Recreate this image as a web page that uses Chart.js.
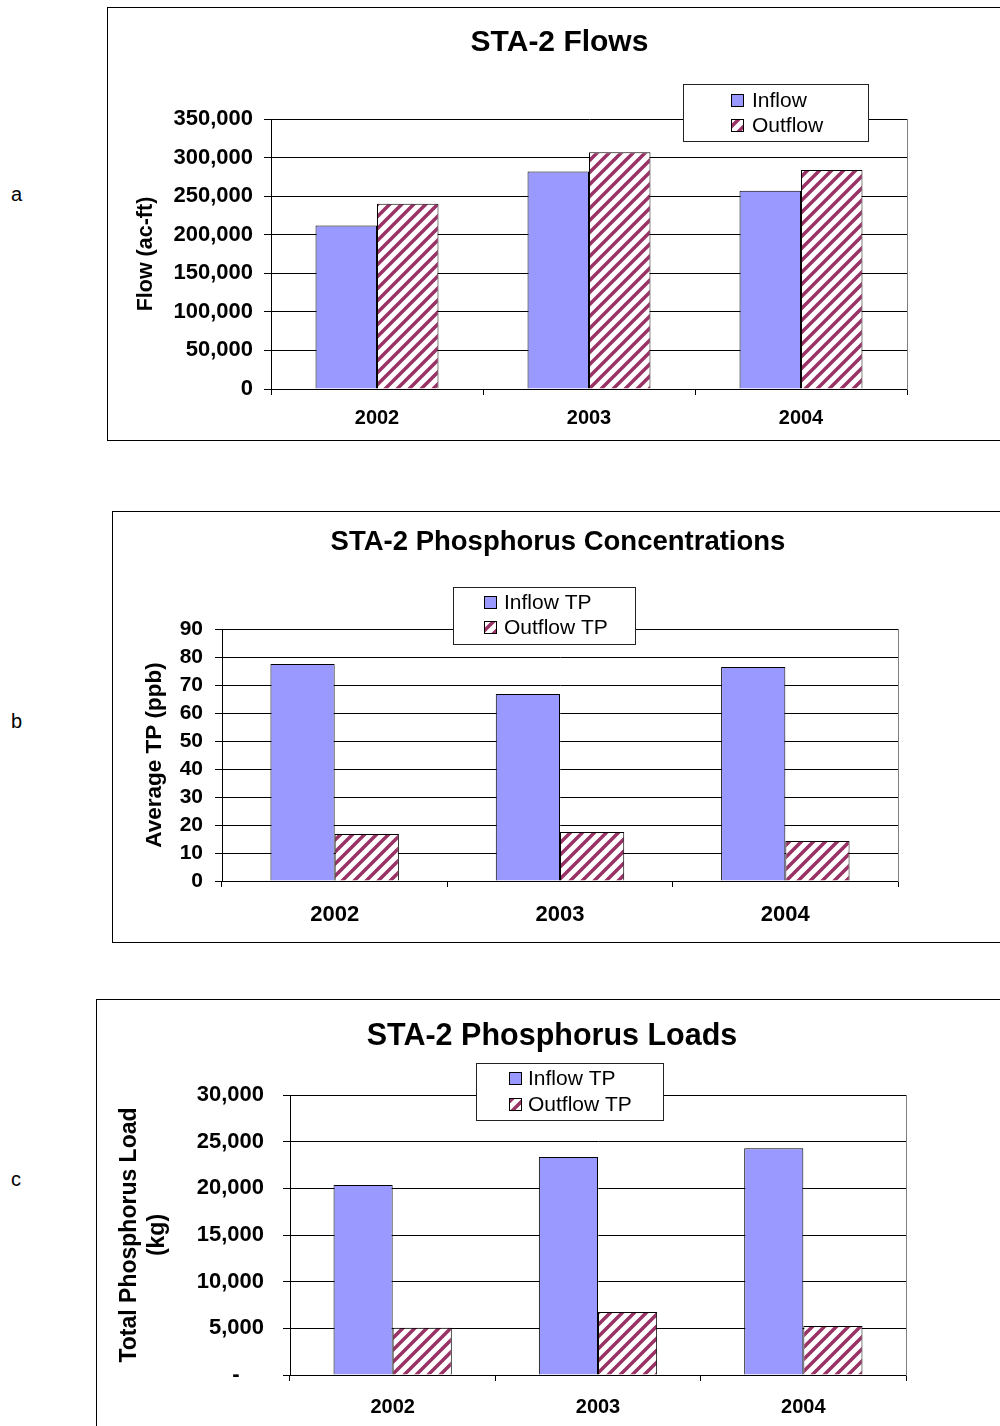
<!DOCTYPE html>
<html>
<head>
<meta charset="utf-8">
<script src="https://cdn.jsdelivr.net/npm/chart.js@4.4.1/dist/chart.umd.min.js"></script>
<style>
  html, body { margin: 0; padding: 0; background: #fff; overflow: hidden; width: 1000px; height: 1426px; }
  body { position: relative; font-family: "Liberation Sans", Arial, sans-serif; }
  .box { position: absolute; border: 1px solid #000; box-sizing: border-box; }
  .tag { position: absolute; font-size: 20px; color: #000; }
  canvas { position: absolute; }
</style>
</head>
<body>
<div class="tag" style="left:11px;top:183px;">a</div>
<div class="tag" style="left:11px;top:710px;">b</div>
<div class="tag" style="left:11px;top:1168px;">c</div>

<div class="box" style="left:107px;top:7px;width:1000px;height:434px;"></div>
<div class="box" style="left:112px;top:511px;width:1000px;height:432px;"></div>
<div class="box" style="left:96px;top:999px;width:1000px;height:500px;"></div>

<canvas id="flows" width="905" height="433" style="left:107px;top:7px;"></canvas>
<canvas id="conc" width="892" height="431" style="left:112px;top:511px;"></canvas>
<canvas id="loads" width="912" height="427" style="left:96px;top:999px;"></canvas>

<script>
// values
const years = ['2002', '2003', '2004'];

const flowInflow = [212000, 282000, 257000];
const flowOutflow = [240000, 307000, 284000];

const tpInflow = [77.5, 66.8, 76.4];
const tpOutflow = [16.8, 17.5, 14.3];

const loadInflow = [20350, 23350, 24300];
const loadOutflow = [5050, 6750, 5250];

Chart.defaults.font.family = '"Liberation Sans", Arial, sans-serif';
Chart.defaults.color = '#000';

// diagonal maroon hatch used by the outflow bars
function stripes() {
  const c = document.createElement('canvas');
  c.width = 12; c.height = 12;
  const g = c.getContext('2d');
  g.fillStyle = '#fff';
  g.fillRect(0, 0, 12, 12);
  g.strokeStyle = '#993366';
  g.lineWidth = 3.5;
  g.beginPath();
  g.moveTo(-6, 6); g.lineTo(6, -6);
  g.moveTo(0, 12); g.lineTo(12, 0);
  g.moveTo(6, 18); g.lineTo(18, 6);
  g.stroke();
  return g.createPattern(c, 'repeat');
}
const hatch = stripes();

// excel-style boxed legend that sits on top of the plot
const boxLegend = {
  id: 'boxLegend',
  afterDraw(chart, args, o) {
    const ctx = chart.ctx;
    ctx.save();
    ctx.fillStyle = '#fff';
    ctx.fillRect(o.x, o.y, o.w, o.h);
    ctx.strokeStyle = '#222';
    ctx.lineWidth = 1;
    ctx.strokeRect(o.x + 0.5, o.y + 0.5, o.w, o.h);
    ctx.font = '21px "Liberation Sans", Arial, sans-serif';
    ctx.textBaseline = 'middle';
    chart.data.datasets.forEach((ds, i) => {
      const cy = o.y + o.rows[i];
      ctx.fillStyle = ds.backgroundColor;
      ctx.fillRect(o.x + o.sx, cy - 6, 13, 13);
      ctx.strokeStyle = '#000';
      ctx.strokeRect(o.x + o.sx + 0.5, cy - 5.5, 12, 12);
      ctx.fillStyle = '#000';
      ctx.fillText(ds.label, o.x + o.tx, cy + 1);
    });
    ctx.restore();
  }
};

const commas = v => v.toLocaleString('en-US');

function barChart(id, o) {
  return new Chart(document.getElementById(id), {
    type: 'bar',
    data: {
      labels: years,
      datasets: [
        { label: o.names[0], data: o.inflow, backgroundColor: '#9999FF', borderColor: '#000', borderWidth: 1 },
        { label: o.names[1], data: o.outflow, backgroundColor: hatch, borderColor: '#000', borderWidth: 1 }
      ]
    },
    options: {
      responsive: false,
      animation: false,
      devicePixelRatio: 1,
      layout: { padding: 0 },
      datasets: { bar: { categoryPercentage: o.catPct, barPercentage: 1 } },
      plugins: {
        legend: { display: false },
        tooltip: { enabled: false },
        title: {
          display: true,
          text: o.title,
          font: { size: o.titleSize, weight: 'bold' },
          padding: o.titlePad
        },
        boxLegend: o.legend
      },
      scales: {
        x: {
          afterFit(s) { s.height = o.xHeight; },
          grid: { offset: true, drawOnChartArea: false, color: '#000', tickLength: 6 },
          border: { color: '#000' },
          ticks: { font: { size: o.xTickSize, weight: 'bold' }, padding: o.xTickPad }
        },
        y: {
          min: 0,
          max: o.yMax,
          afterFit(s) { s.width = o.yWidth; },
          grid: { color: '#000', tickLength: 7 },
          border: { color: '#000' },
          ticks: {
            stepSize: o.yStep,
            autoSkip: false,
            font: { size: o.yTickSize, weight: 'bold' },
            padding: o.yTickPad,
            callback: o.fmt
          },
          title: {
            display: true,
            text: o.yTitle,
            font: { size: o.yTitleSize, weight: 'bold', lineHeight: 1.2 },
            padding: { top: o.yTitlePad, bottom: 0 }
          }
        },
        // empty right-hand axis: gives the grey right edge of the plot and the blank margin
        yRight: {
          position: 'right',
          min: 0,
          max: o.yMax,
          afterFit(s) { s.width = o.padRight; },
          grid: { drawOnChartArea: false, drawTicks: false },
          border: { color: '#808080' },
          ticks: { display: false }
        }
      }
    },
    plugins: [boxLegend]
  });
}

barChart('flows', {
  names: ['Inflow', 'Outflow'],
  inflow: flowInflow,
  outflow: flowOutflow,
  title: 'STA-2 Flows',
  titleSize: 30,
  titlePad: { top: 18, bottom: 58 },
  yTitle: 'Flow (ac-ft)',
  yTitleSize: 21.5,
  yTitlePad: 26,
  yMax: 350000,
  yStep: 50000,
  yTickSize: 22,
  yTickPad: 11,
  fmt: v => commas(v),
  yWidth: 164,
  xHeight: 51,
  xTickSize: 20,
  xTickPad: 11,
  padRight: 105,
  catPct: 0.58,
  legend: { x: 576, y: 77, w: 185, h: 57, sx: 48, tx: 69, rows: [16, 41] }
});

barChart('conc', {
  names: ['Inflow TP', 'Outflow TP'],
  inflow: tpInflow,
  outflow: tpOutflow,
  title: 'STA-2 Phosphorus Concentrations',
  titleSize: 27.5,
  titlePad: { top: 14.5, bottom: 70.5 },
  yTitle: 'Average TP (ppb)',
  yTitleSize: 22.5,
  yTitlePad: 29.5,
  yMax: 90,
  yStep: 10,
  yTickSize: 21,
  yTickPad: 12,
  fmt: v => String(v),
  yWidth: 110,
  xHeight: 61,
  xTickSize: 22,
  xTickPad: 15,
  padRight: 106,
  catPct: 0.57,
  legend: { x: 341, y: 76, w: 182, h: 57, sx: 31, tx: 51, rows: [15, 40] }
});

barChart('loads', {
  names: ['Inflow TP', 'Outflow TP'],
  inflow: loadInflow,
  outflow: loadOutflow,
  title: 'STA-2 Phosphorus Loads',
  titleSize: 30.5,
  titlePad: { top: 19.7, bottom: 39.7 },
  yTitle: ['Total Phosphorus Load', '(kg)'],
  yTitleSize: 23,
  yTitlePad: 20,
  yMax: 30000,
  yStep: 5000,
  yTickSize: 22,
  yTickPad: 19,
  fmt: v => v === 0 ? '-    ' : commas(v),
  yWidth: 194,
  xHeight: 51,
  xTickSize: 20,
  xTickPad: 14,
  padRight: 102,
  catPct: 0.576,
  legend: { x: 380, y: 64, w: 187, h: 57, sx: 33, tx: 52, rows: [15, 41] }
});
</script>
</body>
</html>
